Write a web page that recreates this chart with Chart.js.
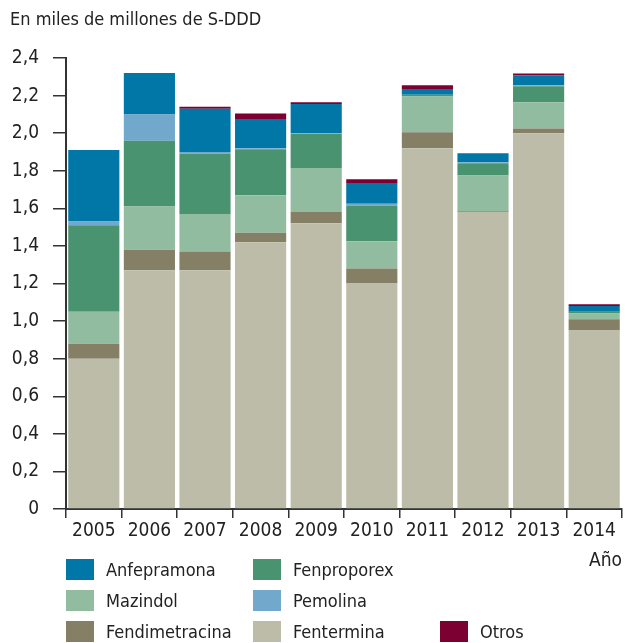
<!DOCTYPE html>
<html>
<head>
<meta charset="utf-8">
<script src="https://cdn.jsdelivr.net/npm/chart.js@4/dist/chart.umd.min.js"></script>
<style>
  body { margin: 0; background: #fff; }
  #wrap { position: relative; width: 625px; height: 643px; font-family: 'Liberation Sans Narrow', 'DejaVu Sans Condensed', sans-serif; color: #222; }
  #title { position: absolute; left: 10px; top: 8px; font-size: 18px; }
  #axisName { position: absolute; right: 3px; top: 548px; font-size: 19px; }
  canvas { position: absolute; left: 0; top: 0; }
  .item { position: absolute; font-size: 18px; line-height: 22px; }
  .item span { display: inline-block; width: 28px; height: 21px; vertical-align: top; margin-right: 12px; }
</style>
</head>
<body>
<div id="wrap">
  <canvas id="myChart" width="625" height="643"></canvas>
  <div id="title">En miles de millones de S-DDD</div>
  <div id="axisName">Año</div>
  <div id="legend"></div>
</div>
<script>
const years = ["2005", "2006", "2007", "2008", "2009", "2010", "2011", "2012", "2013", "2014"];

// values in billions of S-DDD
const fentermina     = [0.80, 1.27, 1.27, 1.42, 1.52, 1.20, 1.92, 1.58, 2.00, 0.95];
const fendimetracina = [0.08, 0.11, 0.10, 0.05, 0.06, 0.08, 0.085, 0.005, 0.025, 0.06];
const mazindol       = [0.17, 0.23, 0.20, 0.20, 0.235, 0.145, 0.19, 0.19, 0.14, 0.03];
const fenproporex    = [0.46, 0.35, 0.32, 0.245, 0.18, 0.19, 0.01, 0.065, 0.085, 0.01];
const pemolina       = [0.02, 0.14, 0.01, 0.005, 0.005, 0.01, 0.0, 0.005, 0.005, 0.0];
const anfepramona    = [0.38, 0.22, 0.23, 0.155, 0.155, 0.11, 0.03, 0.048, 0.053, 0.03];
const otros          = [0.0, 0.0, 0.01, 0.03, 0.01, 0.02, 0.02, 0.0, 0.01, 0.01];

const yTicks = [0, 0.2, 0.4, 0.6, 0.8, 1.0, 1.2, 1.4, 1.6, 1.8, 2.0, 2.2, 2.4];

const series = [
    { label: "Fentermina", data: fentermina, color: "#bdbca8" },
    { label: "Fendimetracina", data: fendimetracina, color: "#857f66" },
    { label: "Mazindol", data: mazindol, color: "#92bca0" },
    { label: "Fenproporex", data: fenproporex, color: "#4a9370" },
    { label: "Pemolina", data: pemolina, color: "#72a8cb" },
    { label: "Anfepramona", data: anfepramona, color: "#0077a6" },
    { label: "Otros", data: otros, color: "#7d0033" }
];

// legend grid as in the original: [name, left, top]
const legendLayout = [
    ["Anfepramona", 66, 559], ["Fenproporex", 253, 559],
    ["Mazindol", 66, 590], ["Pemolina", 253, 590],
    ["Fendimetracina", 66, 621], ["Fentermina", 253, 621], ["Otros", 440, 621]
];

const fontFamily = "'Liberation Sans Narrow', 'DejaVu Sans Condensed', sans-serif";
const axisColor = "#333";

const legendDiv = document.getElementById("legend");
legendLayout.forEach(function (entry) {
    const s = series.find(x => x.label === entry[0]);
    const el = document.createElement("div");
    el.className = "item";
    el.style.left = entry[1] + "px";
    el.style.top = entry[2] + "px";
    el.innerHTML = '<span style="background:' + s.color + '"></span>' + s.label;
    legendDiv.appendChild(el);
});

const ctx = document.getElementById("myChart").getContext("2d");
new Chart(ctx, {
    type: "bar",
    data: {
        labels: years,
        datasets: series.map(s => ({
            label: s.label,
            data: s.data,
            backgroundColor: s.color,
            borderWidth: 0,
            barPercentage: 0.92,
            categoryPercentage: 1.0
        }))
    },
    options: {
        responsive: false,
        animation: false,
        layout: { padding: { top: 58, right: 3, left: 0, bottom: 94 } },
        plugins: {
            legend: { display: false },
            tooltip: { enabled: false }
        },
        scales: {
            x: {
                stacked: true,
                grid: { offset: true, drawOnChartArea: false, drawTicks: true, tickLength: 9, color: axisColor, lineWidth: 1.5 },
                border: { display: true, color: axisColor, width: 2 },
                ticks: { color: "#222", font: { family: fontFamily, size: 19 }, padding: 2, maxRotation: 0 },
                afterFit: function (scale) { scale.height = 40; }
            },
            y: {
                stacked: true,
                min: 0,
                max: 2.4,
                afterBuildTicks: function (scale) { scale.ticks = yTicks.map(v => ({ value: v })); },
                grid: { drawOnChartArea: false, drawTicks: true, tickLength: 13, color: axisColor, lineWidth: 1.5 },
                border: { display: true, color: axisColor, width: 2 },
                ticks: {
                    color: "#222",
                    font: { family: fontFamily, size: 19 },
                    padding: 14,
                    callback: function (v) { return v === 0 ? "0" : Number(v).toFixed(1).replace(".", ","); }
                },
                afterFit: function (scale) { scale.width = 66; }
            }
        }
    }
});
</script>
</body>
</html>
